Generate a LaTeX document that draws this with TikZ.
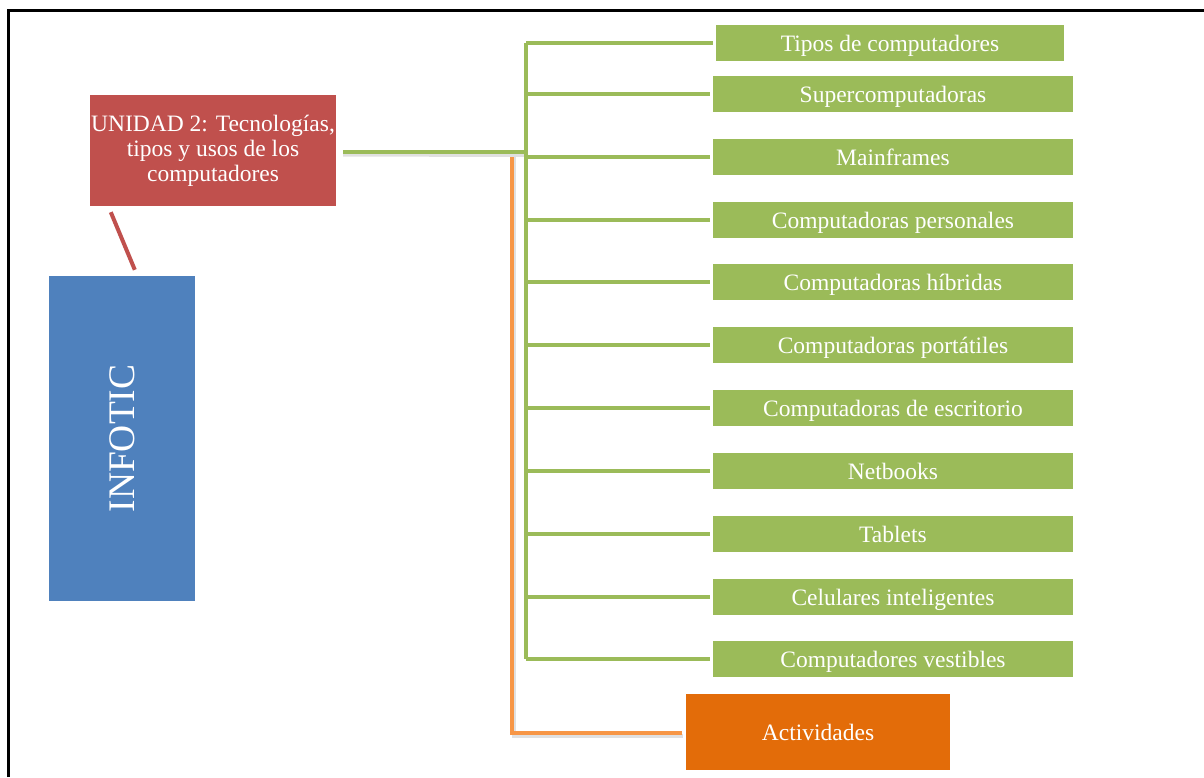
\documentclass[tikz,border=0pt]{standalone}
\usepackage{fontspec}
\setmainfont{Liberation Serif}
\usetikzlibrary{calc}
\definecolor{unitred}{HTML}{C0504D}
\definecolor{rootblue}{HTML}{4F81BD}
\definecolor{itemgreen}{HTML}{9BBB59}
\definecolor{actorange}{HTML}{E36C09}
\definecolor{lineorange}{HTML}{F79646}
\begin{document}
\begin{tikzpicture}[x=1pt,y=-1pt,
  box/.style={rectangle, inner sep=0pt, text=white, align=center,
    font=\fontsize{23.5}{25}\selectfont},
  item/.style={box, fill=itemgreen, minimum width=360pt, minimum height=36pt,
    text height=18pt, text depth=1pt},
  gline/.style={draw=itemgreen, line width=4pt},
  oline/.style={draw=lineorange, line width=4pt},
  shade/.style={draw=black!12, line width=4pt},
  rline/.style={draw=unitred, line width=4pt}]
\useasboundingbox (0,0) rectangle (1204,777);
% frame
\draw[line width=3pt] (8,777) -- (8,10) -- (1204,10);

% main boxes
\node[box, fill=unitred, minimum width=246pt, minimum height=111pt] (unit) at (213,150.5)
  {UNIDAD 2: Tecnologías,\\tipos y usos de los\\computadores};
\node[box, fill=rootblue, minimum width=146pt, minimum height=325pt] (root) at (122,438.5)
  {\rotatebox{90}{\fontsize{37.5}{40}\selectfont INFOTIC}};
\draw[rline] ($(unit.south west)+(21,6)$) -- ($(root.north west)+(86,-6)$);

% items
\node[item, minimum width=348pt] (i1) at (890,43) {Tipos de computadores};
\node[item] (i2) at (893,94) {Supercomputadoras};
\node[item] (i3) at (893,156.5) {Mainframes};
\node[item] (i4) at (893,219.5) {Computadoras personales};
\node[item] (i5) at (893,282) {Computadoras híbridas};
\node[item] (i6) at (893,345) {Computadoras portátiles};
\node[item] (i7) at (893,408) {Computadoras de escritorio};
\node[item] (i8) at (893,471) {Netbooks};
\node[item] (i9) at (893,534) {Tablets};
\node[item] (i10) at (893,597) {Celulares inteligentes};
\node[item] (i11) at (893,659) {Computadores vestibles};
\node[box, fill=actorange, minimum width=264pt, minimum height=76pt] (act) at (818,732) {Actividades};

% connector hubs
\coordinate (hub) at (526,152);
\coordinate (ohub) at (512,152);
\coordinate (ocorner) at (512,733);

% orange branch to the activities
\draw[shade] ($(ohub)+(2,3)$) -- ($(ocorner)+(2,3)$) -- ($(act.west)+(-3,4)$);
\draw[oline] (ohub) -- (ocorner) -- ($(act.west)+(-4,1)$);

% green tree
\draw[shade, shorten <=7pt] ($(unit.east)+(0,4)$) -- ($(hub)+(0,3)$);
\draw[gline, shorten <=7pt] (unit.east |- hub) -- (hub);
\draw[gline] (i1.west -| hub) -- (i11.west -| hub);
\foreach \n in {i1,i2,i3,i4,i5,i6,i7,i8,i9,i10,i11}
  \draw[gline, shorten >=3pt] (\n.west -| hub) -- (\n.west);
\end{tikzpicture}
\end{document}
